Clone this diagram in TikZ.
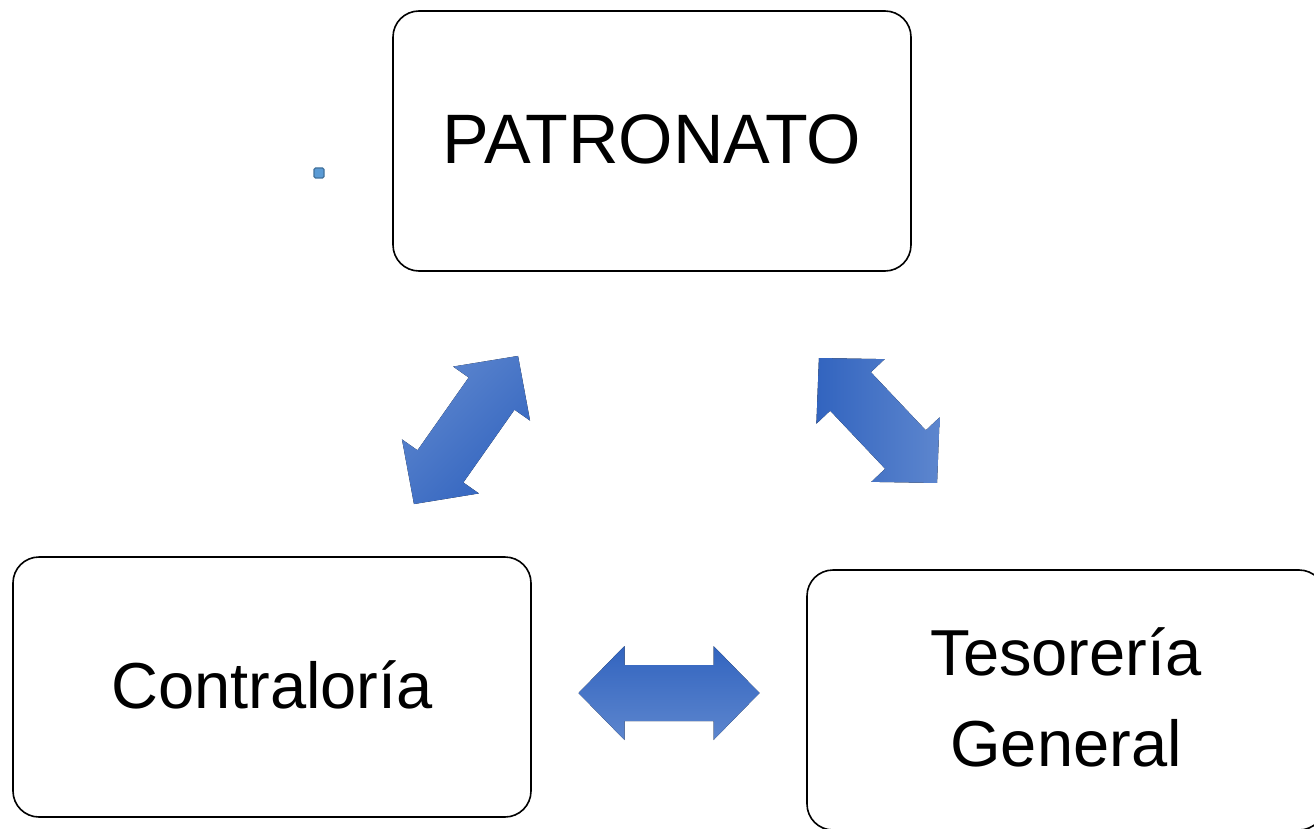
\documentclass[tikz,border=0pt]{standalone}
\usepackage{fontspec}
\setmainfont{Liberation Sans}
\usetikzlibrary{calc}

\definecolor{framecol}{HTML}{000000}
\definecolor{arrowdark}{HTML}{3264BF}
\definecolor{arrowlight}{HTML}{5D86CE}
\definecolor{dotfill}{HTML}{5B9BD5}
\definecolor{dotline}{HTML}{41719C}

\tikzset{
  orgbox/.style={draw=framecol, line width=1.6pt, rounded corners=26pt,
    minimum width=518pt, minimum height=260pt, inner sep=0pt, fill=white},
  boxtext/.style={anchor=base, inner sep=0pt, font=\fontsize{65}{90}\selectfont},
  arrowfill/.style={top color=arrowlight, bottom color=arrowdark, shading angle=#1},
}

% double-headed block arrow centred on a named coordinate
% #1 centre, #2 direction, #3 length, #4 shading angle
\newcommand\dblarrow[4]{%
  \pgfmathsetmacro\halflen{#3/2}%
  \pgfmathsetmacro\neck{#3/2-46}%
  \fill[arrowfill=#4, shift={(#1)}, rotate=#2]
    (-\halflen,0) -- (-\neck,47) -- (-\neck,28) -- (\neck,28) -- (\neck,47)
    -- (\halflen,0) -- (\neck,-47) -- (\neck,-28) -- (-\neck,-28) -- (-\neck,-47) -- cycle;}

\begin{document}
\begin{tikzpicture}[x=1pt,y=-1pt]
  \useasboundingbox (0,0) rectangle (1314,829);
  \fill[white] (0,0) rectangle (1314,829);

  % boxes
  \node[orgbox] (patronato) at (652,141) {};
  \node[orgbox] (contraloria) at (272,687) {};
  \node[orgbox] (tesoreria) at (1066,700) {};

  % labels
  \node[boxtext, font=\fontsize{70}{90}\selectfont] (patronatotxt) at (652,164) {PATRONATO};
  \node[boxtext] (contraloriatxt) at (272,708) {Contraloría};
  \node[boxtext] (tesoreriatxt) at (1066,675) {Tesorería};
  \node[boxtext] (generaltxt) at (1066,766) {General};

  % arrow centres
  \coordinate (leftarrow) at (466,430);
  \coordinate (rightarrow) at (878,420.5);
  \coordinate (bottomarrow) at (669,693);

  \dblarrow{leftarrow}{54.9}{181}{45}
  \dblarrow{rightarrow}{-46.6}{172}{-90}
  \dblarrow{bottomarrow}{0}{181}{180}

  % small handle mark
  \node[draw=dotline, fill=dotfill, line width=1.4pt, rounded corners=1.5pt,
        minimum size=10pt, inner sep=0pt] (handle) at (319,173) {};
\end{tikzpicture}
\end{document}
